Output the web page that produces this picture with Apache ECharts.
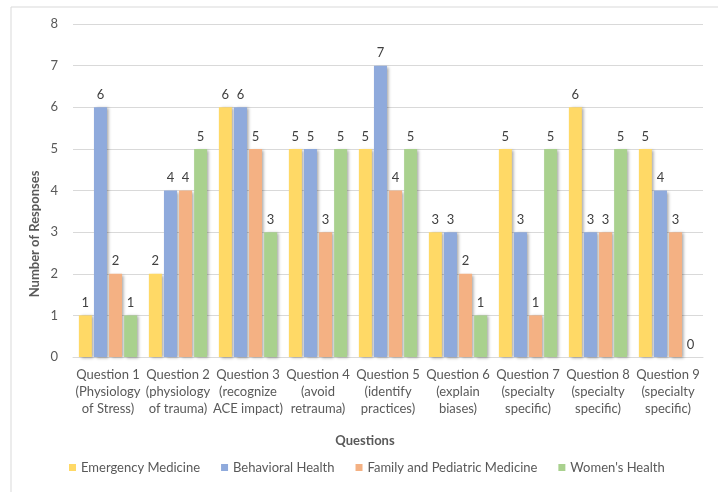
<!DOCTYPE html>
<html>
<head>
<meta charset="utf-8">
<script src="https://cdn.jsdelivr.net/npm/echarts@6/dist/echarts.min.js"></script>
<style>
  html, body { margin: 0; padding: 0; background: #ffffff; }
  #chart { width: 718px; height: 492px; }
</style>
</head>
<body>
<div id="chart"></div>
<script>
// Survey responses per question, grouped by specialty
const categories = [
  'Question 1\n(Physiology\nof Stress)',
  'Question 2\n(physiology\nof trauma)',
  'Question 3\n(recognize\nACE impact)',
  'Question 4\n(avoid\nretrauma)',
  'Question 5\n(identify\npractices)',
  'Question 6\n(explain\nbiases)',
  'Question 7\n(specialty\nspecific)',
  'Question 8\n(specialty\nspecific)',
  'Question 9\n(specialty\nspecific)'
];
const seriesNames = ['Emergency Medicine', 'Behavioral Health', 'Family and Pediatric Medicine', "Women's Health"];
const emergencyMedicine = [1, 2, 6, 5, 5, 3, 5, 6, 5];
const behavioralHealth  = [6, 4, 6, 5, 7, 3, 3, 3, 4];
const familyPediatric   = [2, 4, 5, 3, 4, 2, 1, 3, 3];
const womensHealth      = [1, 5, 3, 5, 5, 1, 5, 5, 0];
const yTicks = [0, 1, 2, 3, 4, 5, 6, 7, 8];

const colors = ['#FFD966', '#8FAADC', '#F4B183', '#A9D18E'];
const FONT = 'Lato, "Open Sans", sans-serif';

function barSeries(name, data, color) {
  return {
    name: name,
    type: 'bar',
    data: data,
    barWidth: 13,
    barGap: '16%',
    itemStyle: {
      color: color,
      shadowColor: 'rgba(0,0,0,0.35)',
      shadowBlur: 3,
      shadowOffsetX: 2,
      shadowOffsetY: 1
    },
    label: {
      show: true,
      position: 'top',
      distance: 6,
      color: '#404040',
      fontSize: 13,
      fontFamily: FONT
    }
  };
}

const chart = echarts.init(document.getElementById('chart'), null, { renderer: 'canvas' });
chart.setOption({
  animation: false,
  backgroundColor: '#ffffff',
  color: colors,
  grid: { left: 73, right: 15, top: 24, bottom: 135, containLabel: false },
  xAxis: {
    type: 'category',
    data: categories,
    axisLine: { lineStyle: { color: '#D9D9D9', width: 1 } },
    axisTick: { show: false },
    axisLabel: {
      interval: 0,
      color: '#595959',
      fontSize: 13,
      fontFamily: FONT,
      lineHeight: 17,
      margin: 9
    }
  },
  yAxis: {
    type: 'value',
    min: yTicks[0],
    max: yTicks[yTicks.length - 1],
    interval: 1,
    axisLine: { show: false },
    axisTick: { show: false },
    splitLine: { lineStyle: { color: '#D9D9D9', width: 1 } },
    axisLabel: {
      color: '#595959',
      fontSize: 13,
      fontFamily: FONT,
      margin: 15
    }
  },
  legend: {
    data: seriesNames,
    bottom: 13,
    left: 64,
    itemWidth: 7,
    itemHeight: 7,
    itemGap: 21,
    icon: 'rect',
    textStyle: { color: '#595959', fontSize: 13, fontFamily: FONT }
  },
  graphic: [
    {
      type: 'rect',
      shape: { x: 11, y: 7, width: 760, height: 520 },
      style: { fill: 'none', stroke: '#D9D9D9', lineWidth: 1 },
      silent: true,
      z: -1
    },
    {
      type: 'text',
      x: 365,
      y: 441,
      style: {
        text: 'Questions',
        fill: '#595959',
        font: 'bold 13px ' + FONT,
        textAlign: 'center',
        textVerticalAlign: 'middle'
      }
    },
    {
      type: 'text',
      x: 35,
      y: 234,
      rotation: Math.PI / 2,
      style: {
        text: 'Number of Responses',
        fill: '#595959',
        font: 'bold 13px ' + FONT,
        textAlign: 'center',
        textVerticalAlign: 'middle'
      }
    }
  ],
  series: [
    barSeries(seriesNames[0], emergencyMedicine, colors[0]),
    barSeries(seriesNames[1], behavioralHealth, colors[1]),
    barSeries(seriesNames[2], familyPediatric, colors[2]),
    barSeries(seriesNames[3], womensHealth, colors[3])
  ]
});
</script>
</body>
</html>
